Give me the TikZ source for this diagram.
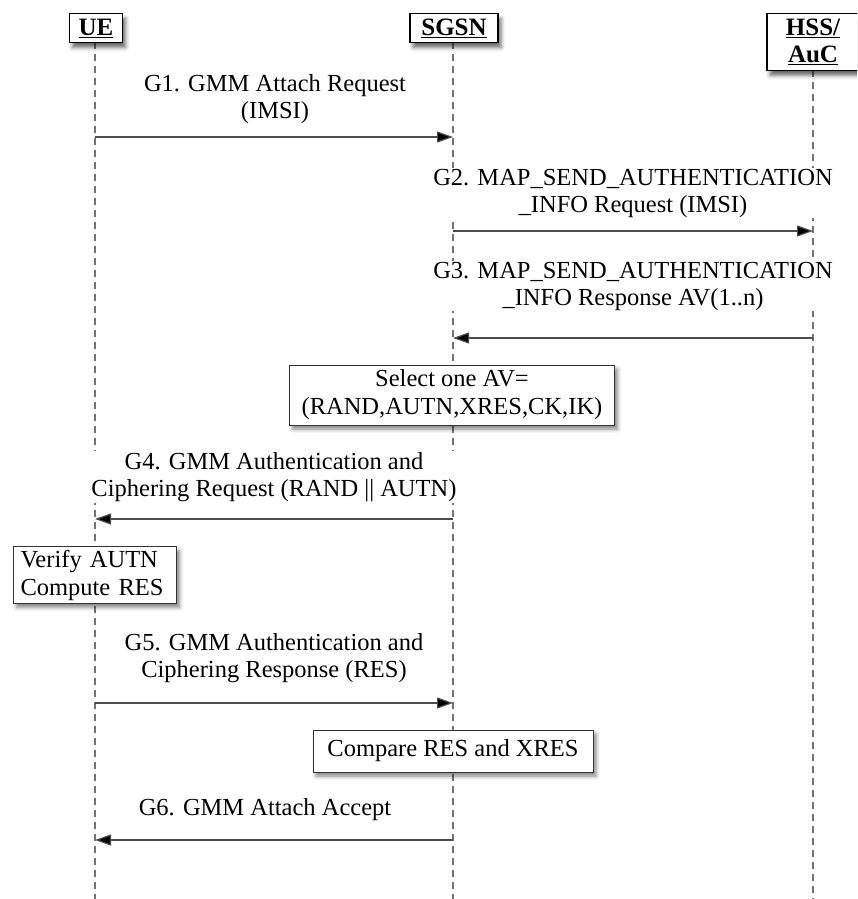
\documentclass[tikz,border=0pt]{standalone}
\usepackage{fontspec}
\setmainfont{Liberation Serif}
\usetikzlibrary{arrows.meta,shadows.blur,calc}
\begin{document}
\begin{tikzpicture}[x=1pt,y=-1pt,
  txt/.style={font=\fontsize{24.5}{27}\selectfont, align=center, inner sep=1pt, fill=white},
  headbox/.style={draw=black, line width=1.6pt, fill=white, inner sep=3pt,
    font=\fontsize{25}{28}\selectfont\bfseries,
    blur shadow={shadow xshift=3pt, shadow yshift=-5pt, shadow opacity=60, shadow blur radius=4pt}},
  notebox/.style={draw=black!80, line width=1pt, fill=white, align=center,
    font=\fontsize{24.5}{28}\selectfont,
    blur shadow={shadow xshift=3pt, shadow yshift=-4pt, shadow opacity=50, shadow blur radius=4pt}},
  lifeline/.style={draw=black!55, line width=1.3pt, dash pattern=on 7pt off 5pt},
  msg/.style={draw=black!70, line width=1.2pt, -{Triangle[length=16pt,width=11pt,fill=black]}}]
\useasboundingbox (0,0) rectangle (857,899);
\clip (0,0) rectangle (857,899);

% lifelines
\coordinate (ue-top) at (95,42);
\coordinate (ue-bot) at (95,899);
\coordinate (sgsn-top) at (453,42);
\coordinate (sgsn-bot) at (453,899);
\coordinate (hss-top) at (813,70);
\coordinate (hss-bot) at (813,899);
\draw[lifeline] (ue-top) -- (ue-bot);
\draw[lifeline] (sgsn-top) -- (sgsn-bot);
\draw[lifeline] (hss-top) -- (hss-bot);

% participants
\node[headbox, minimum width=53pt, minimum height=29pt] (ue) at (96,28) {\underline{UE}};
\node[headbox, minimum width=88pt, minimum height=29pt] (sgsn) at (454,28) {\underline{SGSN}};
\node[headbox, minimum width=92pt, minimum height=57pt, align=center] (hss) at (813,42)
  {\underline{HSS/}\\[-1pt]\underline{AuC}};

% message end points
\coordinate (g1a) at (95,137);   \coordinate (g1b) at (453,137);
\coordinate (g2a) at (453,231);  \coordinate (g2b) at (813,231);
\coordinate (g3a) at (813,338);  \coordinate (g3b) at (453,338);
\coordinate (g4a) at (453,519);  \coordinate (g4b) at (95,519);
\coordinate (g5a) at (95,703);   \coordinate (g5b) at (453,703);
\coordinate (g6a) at (453,840);  \coordinate (g6b) at (95,840);

% messages
\draw[msg] (g1a) -- (g1b);
\node[txt] (l1) at (275,99) {G1. GMM Attach Request\\(IMSI)};
\draw[msg] (g2a) -- (g2b);
\node[txt] (l2) at (633,193) {G2. MAP\_SEND\_AUTHENTICATION\\\_INFO Request (IMSI)};
\draw[msg] (g3a) -- (g3b);
\node[txt] (l3) at (633,286) {G3. MAP\_SEND\_AUTHENTICATION\\\_INFO Response AV(1..n)};
\draw[msg] (g4a) -- (g4b);
\node[txt] (l4) at (274,477) {G4. GMM Authentication and\\Ciphering Request (RAND || AUTN)};
\draw[msg] (g5a) -- (g5b);
\node[txt] (l5) at (274,658) {G5. GMM Authentication and\\Ciphering Response (RES)};
\draw[msg] (g6a) -- (g6b);
\node[txt] (l6) at (265,810) {G6. GMM Attach Accept};

% local actions
\node[notebox, minimum width=325pt, minimum height=60pt, inner sep=2pt] (sel) at (452,395)
  {Select one AV=\\(RAND,AUTN,XRES,CK,IK)};
\node[notebox, minimum width=163pt, minimum height=56pt, inner xsep=7pt, inner ysep=3pt,
  align=left, text width=149pt] (ver) at (95,575)
  {Verify AUTN\\Compute RES};
\node[notebox, minimum width=280pt, minimum height=42pt, inner sep=2pt] (cmp) at (453,751)
  {Compare RES and XRES};
\end{tikzpicture}
\end{document}
